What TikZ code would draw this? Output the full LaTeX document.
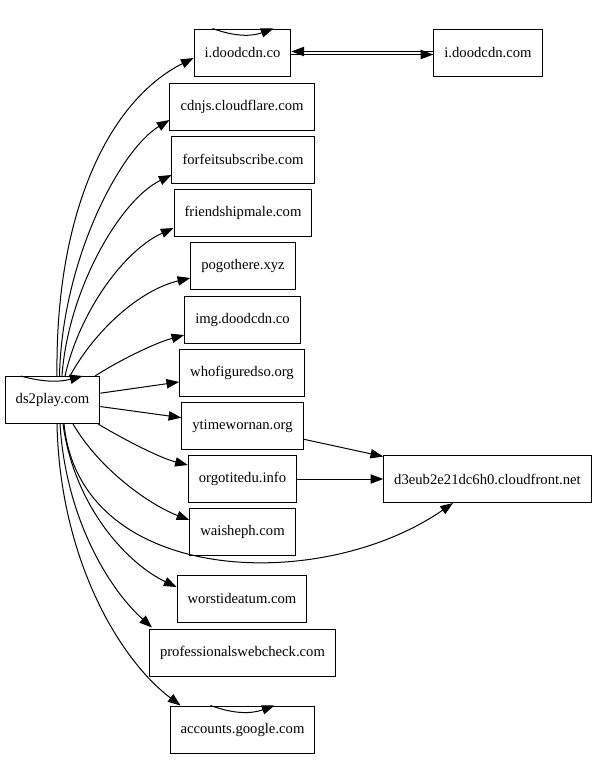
\documentclass[tikz,border=0pt]{standalone}
\usepackage{fontspec}
\setmainfont{Liberation Serif}
\usetikzlibrary{arrows.meta,calc}

\tikzset{
  box/.style={draw,line width=0.75pt,minimum height=35.25pt,minimum width=54pt,
    inner xsep=7.9pt,inner ysep=0pt,font=\fontsize{11}{13}\selectfont},
  edge/.style={line width=0.75pt,-{Triangle[length=9.5pt,width=7pt]}}
}

\begin{document}
\begin{tikzpicture}[x=0.75pt,y=0.75pt,yscale=-1,xscale=1]
\useasboundingbox (0,0) rectangle (597,760);

% Nodes
\node[box] (ds) at (52.5,400) {ds2play.com};
\node[box] (ic) at (242.5,52.5) {i.doodcdn.co};
\node[box] (icom) at (488,52.5) {i.doodcdn.com};
\node[box] (cf) at (242,106.5) {cdnjs.cloudflare.com};
\node[box] (fs) at (243,159.5) {forfeitsubscribe.com};
\node[box] (fm) at (243,213) {friendshipmale.com};
\node[box] (pg) at (243,266) {pogothere.xyz};
\node[box] (img) at (242.5,319.5) {img.doodcdn.co};
\node[box] (wf) at (242,373) {whofiguredso.org};
\node[box] (yt) at (242.5,426) {ytimewornan.org};
\node[box] (og) at (242.5,479) {orgotitedu.info};
\node[box] (ws) at (242.5,532) {waisheph.com};
\node[box] (wi) at (242,598.5) {worstideatum.com};
\node[box] (pw) at (242.5,652.5) {professionalswebcheck.com};
\node[box] (ag) at (242.5,729.5) {accounts.google.com};
\node[box] (d3) at (487.5,479) {d3eub2e21dc6h0.cloudfront.net};

% Self loops
\draw[edge] ($(ic.north)+(-30,0)$) to[out=20,in=160] ($(ic.north)+(31,0)$);
\draw[edge] ($(ds.north)+(-32,0)$) to[out=15,in=165] ($(ds.north)+(30,0)$);
\draw[edge] ($(ag.north)+(-32,0)$) to[out=20,in=160] ($(ag.north)+(32,0)$);

% i.doodcdn.co <-> i.doodcdn.com
\draw[edge] ($(icom.west)+(0,-1)$) -- ($(ic.east)+(0,-1)$);
\draw[edge] ($(ic.east)+(0,2)$) -- ($(icom.west)+(0,2)$);

% Upper fan
\draw[edge] ($(ds.north)+(4.5,0)$) .. controls (55,210) and (110,100) .. ($(ic.west)+(0,5.5)$);
\draw[edge] ($(ds.north)+(7,0)$) .. controls (62,260) and (120,150) .. ($(cf.west)+(0,13.5)$);
\draw[edge] ($(ds.north)+(9.5,0)$) .. controls (68,290) and (120,200) .. ($(fs.west)+(0,15.5)$);
\draw[edge] ($(ds.north)+(12.5,0)$) .. controls (80,310) and (125,250) .. ($(fm.west)+(0,15)$);
\draw[edge] ($(ds.north)+(17.5,0)$) .. controls (95,330) and (140,290) .. ($(pg.west)+(0,12)$);
\draw[edge] ($(ds.north)+(42.5,0)$) .. controls (120,360) and (155,343) .. ($(img.west)+(0,15.5)$);

% Straight edges
\draw[edge] (ds) -- (wf);
\draw[edge] (ds) -- (yt);
\draw[edge] (yt) -- (d3);
\draw[edge] (og) -- (d3);

% Lower fan
\draw[edge] ($(ds.south)+(45.5,0)$) .. controls (125,440) and (160,458) .. ($(og.west)+(0,-14)$);
\draw[edge] ($(ds.south)+(20.5,0)$) .. controls (100,470) and (150,505) .. ($(ws.west)+(0,-12)$);
\draw[edge] ($(ds.south)+(11.5,0)$) .. controls (80,585) and (320,595) .. ($(d3.south)+(-34.5,0)$);
\draw[edge] ($(ds.south)+(10.5,0)$) .. controls (75,510) and (130,565) .. ($(wi.west)+(0,-11.5)$);
\draw[edge] ($(ds.south)+(7.5,0)$) .. controls (66,520) and (110,590) .. ($(pw.north west)+(3,-1)$);
\draw[edge] ($(ds.south)+(4.5,0)$) .. controls (60,560) and (120,660) .. ($(ag.north west)+(11,0)$);

\end{tikzpicture}
\end{document}
